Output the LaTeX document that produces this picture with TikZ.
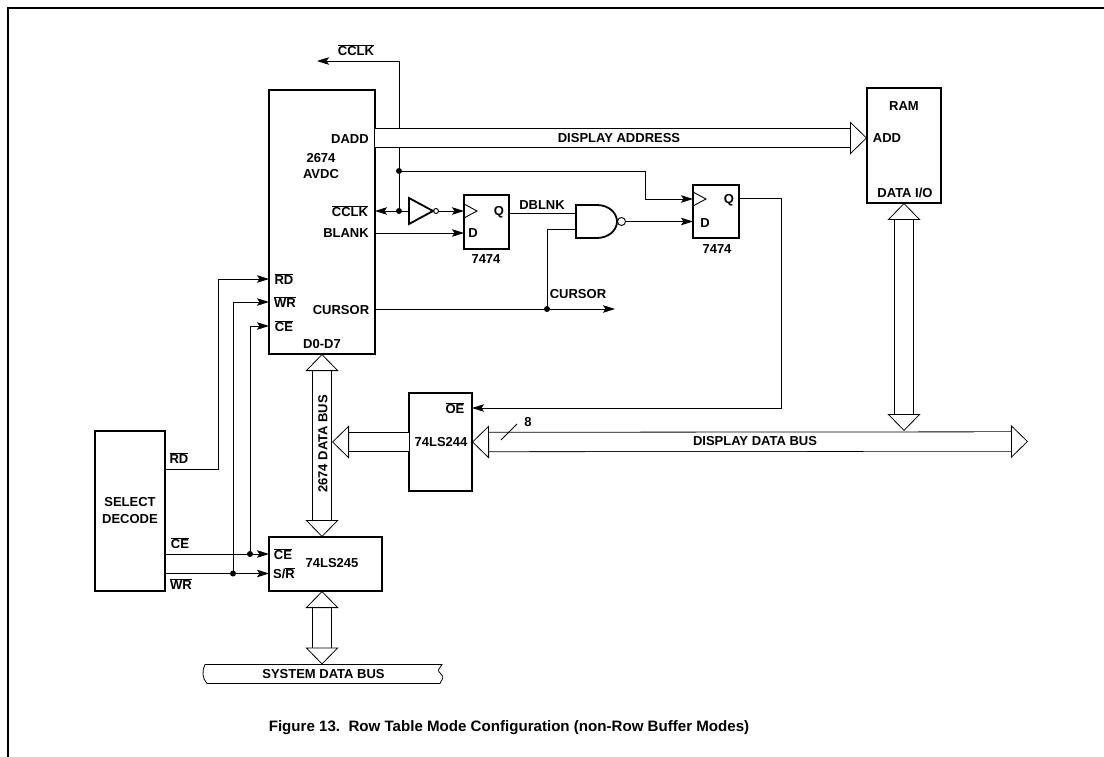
\documentclass[tikz,border=0pt]{standalone}
\usepackage{fontspec}
\setmainfont{Liberation Sans}
\usepackage{tikz}
\usetikzlibrary{arrows.meta}
\newcommand{\ovl}[1]{$\overline{\mbox{#1}}$}

\begin{document}
\begin{tikzpicture}[
  x=1pt, y=-1pt,
  font=\fontsize{13}{15}\selectfont\bfseries,
  >={Stealth[length=12pt,width=7.5pt,inset=2.5pt]},
  chip/.style={draw, line width=1.5pt, inner sep=0pt, outer sep=0pt},
  lab/.style={inner sep=0pt, outer sep=0pt},
  sig/.style={line width=.8pt},
  dot/.style={circle, fill=black, inner sep=0pt, minimum size=6pt},
  clk/.style={line width=.9pt},
  gatebody/.style={line width=1.8pt},
  bubble/.style={circle, draw, line width=.9pt, inner sep=0pt, outer sep=0pt},
  busline/.style={double, line width=.8pt, double distance=18.6pt},
  bushead/.tip={Bar[white,width=18pt,line width=2pt,sep=-1.4pt] Triangle[open,length=17pt,width=33pt]},
  bus/.style={busline, -{bushead}},
  bibus/.style={busline, {bushead}-{bushead}}
]
\useasboundingbox (0,0) rectangle (1104,757);
\draw[line width=1.2pt] (1104,8) -- (8,8) -- (8,757);

% blocks
\node[chip, minimum width=106pt, minimum height=264pt] (avdc) at (322,222) {};
\node[chip, minimum width=74pt, minimum height=115pt] (ram) at (904,145.5) {};
\node[chip, minimum width=45pt, minimum height=54pt] (ffa) at (486.5,222) {};
\node[chip, minimum width=46pt, minimum height=53pt] (ffb) at (716,211.5) {};
\node[chip, minimum width=63pt, minimum height=98pt] (buf) at (440.5,442) {};
\node[chip, minimum width=113pt, minimum height=54pt] (xcvr) at (325.5,564) {};
\node[chip, minimum width=70pt, minimum height=160pt, align=center] (decode) at (130,511) {SELECT\\[2pt]DECODE};
\node[lab, minimum width=237pt, minimum height=19pt] (sysbus) at (323.5,674) {SYSTEM DATA BUS};
\draw[sig] (sysbus.north west) -- (sysbus.north east)
  .. controls +(-4,6) and +(-4,-4) .. ([xshift=-1pt]sysbus.east)
  .. controls +(4,4) and +(2,-5) .. ([xshift=-2pt]sysbus.south east)
  -- ([xshift=2pt]sysbus.south west)
  .. controls +(-5,-5) and +(-3,6) .. (sysbus.north west);

% pin labels
\node[lab] (dadd) at (350,139) {DADD};
\node[lab, align=center] (avdcname) at (321,166.5) {2674\\[1pt]AVDC};
\node[lab] (cclkpin) at (350,211) {\ovl{CCLK}};
\node[lab] (blank) at (346,233) {BLANK};
\node[lab] (cursorpin) at (341,310) {CURSOR};
\node[lab] (rdpin) at (284,279) {\ovl{RD}};
\node[lab] (wrpin) at (285,302) {\ovl{WR}};
\node[lab] (cepin) at (284,326) {\ovl{CE}};
\node[lab] (dzero) at (322,344) {D0-D7};
\node[lab] (ramname) at (904,106) {RAM};
\node[lab] (add) at (887,138) {ADD};
\node[lab] (dataio) at (905,193) {DATA I/O};
\node[lab] (ffaq) at (499,212) {Q};
\node[lab] (ffad) at (473,233) {D};
\node[lab] (ffaname) at (486,259) {7474};
\node[lab] (ffbq) at (729,200) {Q};
\node[lab] (ffbd) at (705,223) {D};
\node[lab] (ffbname) at (717,249) {7474};
\node[lab] (oe) at (455,408) {\ovl{OE}};
\node[lab] (bufname) at (441,442) {74LS244};
\node[lab] (xcvrce) at (283,554) {\ovl{CE}};
\node[lab] (xcvrsr) at (284,573) {S/\ovl{R}};
\node[lab] (xcvrname) at (332,563) {74LS245};

% signal names
\node[lab] (cclkname) at (356,50) {\ovl{CCLK}};
\node[lab] (dblnk) at (542,205) {DBLNK};
\node[lab] (cursorname) at (578,294) {CURSOR};
\node[lab] (rdname) at (179,458) {\ovl{RD}};
\node[lab] (cename) at (180,543) {\ovl{CE}};
\node[lab] (wrname) at (181,584) {\ovl{WR}};
\node[lab] (eight) at (528,422) {8};

% gates
\node[lab, minimum width=24pt, minimum height=26pt] (inv) at (421,211) {};
\draw[gatebody] (inv.north west) -- (inv.east) -- (inv.south west) -- cycle;
\node[bubble, minimum size=5pt] (invbub) at (436,211) {};
\node[lab, minimum width=41pt, minimum height=33pt] (nandg) at (596.5,221.5) {};
\draw[gatebody] (nandg.north west) -- ++(21,0) arc[start angle=90, end angle=-90, x radius=20pt, y radius=16.5pt] -- (nandg.south west) -- cycle;
\node[bubble, minimum size=8pt] (nandbub) at (621.5,221.5) {};

% dots
\node[dot] (cclkdot) at (399,211) {};
\node[dot] (tapdot) at (399,171) {};
\node[dot] (cursordot) at (547,309) {};
\node[dot] (cedot) at (250,554) {};
\node[dot] (wrdot) at (233,573.5) {};
\coordinate (cclktip) at (317,61);
\coordinate (cursortip) at (615,309);

% signals
\draw[sig, ->] (cclkdot.center) |- (cclktip);
\draw[sig] (cclkdot.center) -- (tapdot.center);
\draw[sig, ->] (tapdot.center) -| (645,199) -- (ffb.west |- 645,199);
\draw[sig, ->] (cclkdot.center) -- (avdc.east |- cclkdot);
\draw[sig] (cclkdot.center) -- (inv.west);
\draw[sig, ->] (invbub.east) -- (ffa.west |- invbub.east);
\draw[sig, ->] (avdc.east |- blank) -- (ffa.west |- blank);
\draw[sig] (ffa.east |- 0,213) -- (nandg.west |- 0,213);
\draw[sig, ->] (nandbub.east) -- (ffb.west |- nandbub.east);
\draw[sig, ->] (avdc.east |- cursordot) -- (cursortip);
\draw[sig] (cursordot.center) |- (nandg.west |- 0,229);
\draw[sig, ->] (ffb.east |- 0,198) -| (781,408) -- (buf.east |- 781,408);
\draw[sig, ->] (decode.east |- 0,469) -| (218,279) -- (avdc.west |- 218,279);
\draw[sig, ->] (wrdot.center) |- (avdc.west |- wrpin);
\draw[sig, ->] (cedot.center) |- (avdc.west |- cepin);
\draw[sig, ->] (decode.east |- cedot) -- (xcvr.west |- cedot);
\draw[sig, ->] (decode.east |- wrdot) -- (xcvr.west |- wrdot);

% clock marks
\draw[clk] ([yshift=7pt]ffa.west |- invbub.east) -- ++(13,7) -- ++(-13,7);
\draw[clk] ([yshift=7pt]ffb.west |- 645,199) -- ++(13,7) -- ++(-13,7);

% buses
\coordinate (dbusedge) at (332,442);
\coordinate (dispend) at (1028,441.5);
\draw[bus] (avdc.east |- add) -- (ram.west |- add);
\draw[bibus] (avdc.south) -- (avdc.south |- xcvr.north);
\draw[bibus] (avdc.south |- xcvr.south) -- (avdc.south |- sysbus.north);
\draw[bus] (buf.west) -- (dbusedge);
\draw[bibus] (buf.east) -- (dispend);
\draw[bibus] (ram.south) -- (ram.south |- 0,431);
\draw[sig] ([shift={(-27,18)}]eight.center) -- ([shift={(-11,2)}]eight.center);

% bus names
\node[lab] (dispaddr) at (619,138) {DISPLAY ADDRESS};
\node[lab, rotate=90] (dbusname) at (323,444) {2674 DATA BUS};
\node[lab] (dispdata) at (755,441.5) {DISPLAY DATA BUS};
\node[lab, font=\fontsize{15.1}{17}\selectfont\bfseries] (caption) at (509,728) {Figure 13.\ \ Row Table Mode Configuration (non-Row Buffer Modes)};
\end{tikzpicture}
\end{document}
